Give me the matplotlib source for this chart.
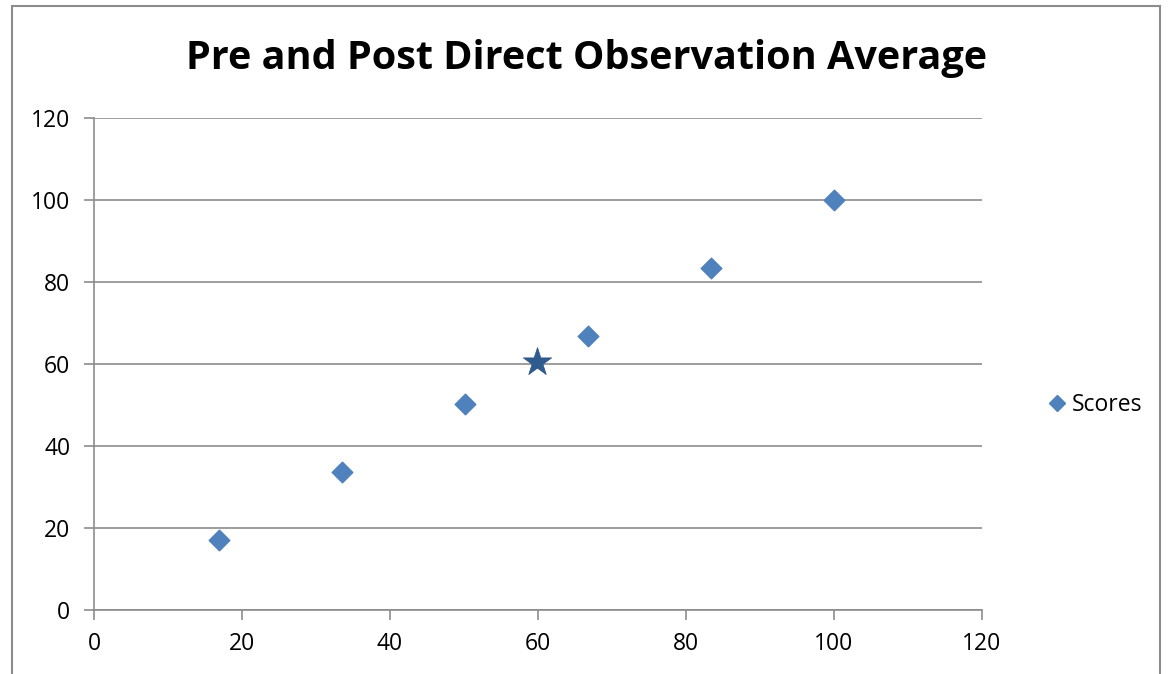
import matplotlib.pyplot as plt
from matplotlib.patches import Rectangle
from matplotlib.lines import Line2D

# Datos
x_scores = [16.9, 33.5, 50.1, 66.8, 83.4, 100.0]
y_scores = [17.0, 33.6, 50.2, 66.8, 83.4, 100.0]
x_estrella = [59.8]
y_estrella = [60.5]

ticks = [0, 20, 40, 60, 80, 100, 120]

plt.rcParams['font.family'] = ['Open Sans', 'DejaVu Sans']

fig = plt.figure(figsize=(11.7, 6.74), dpi=100)
ax = fig.add_axes([94 / 1170, 1 - 610 / 674, 888 / 1170, 492 / 674])

# Marco exterior del grafico
fig.patches.append(Rectangle((12 / 1170, -0.05), 1148 / 1170, 1.05 - 6 / 674,
                             transform=fig.transFigure, fill=False,
                             edgecolor='#8c8c8c', linewidth=1.5))

ax.scatter(x_scores, y_scores, marker='D', s=110, color='#4F81BD',
           edgecolor='#4F81BD', zorder=3, label='Scores')
ax.scatter(x_estrella, y_estrella, marker='*', s=460, color='#2F5C8E',
           edgecolor='#2A5283', linewidth=0.5, zorder=3)

ax.set_xlim(0, 120)
ax.set_ylim(0, 120)
ax.set_xticks(ticks)
ax.set_yticks(ticks)

ax.grid(axis='y', color='#8c8c8c', linewidth=1.2)
ax.set_axisbelow(True)
for lado in ['top', 'right']:
    ax.spines[lado].set_visible(False)
for lado in ['left', 'bottom']:
    ax.spines[lado].set_color('#8c8c8c')
    ax.spines[lado].set_linewidth(1.2)
ax.tick_params(axis='both', direction='out', length=7, width=1.2,
               color='#8c8c8c', labelcolor='black', labelsize=16.5)
ax.tick_params(axis='y', pad=10)
ax.tick_params(axis='x', pad=9)

fig.text(0.501, 1 - 59 / 674, 'Pre and Post Direct Observation Average',
         ha='center', va='center', fontsize=28.5, fontweight='bold')

handle = Line2D([], [], marker='D', linestyle='none', color='#4F81BD',
                markersize=8)
ax.legend([handle], ['Scores'], loc='center left',
          bbox_to_anchor=(1023 / 1170, 1 - 405 / 674),
          bbox_transform=fig.transFigure, frameon=False, fontsize=16.5,
          handletextpad=0.05, handlelength=1.2)

fig.savefig('out.png', dpi=100)
